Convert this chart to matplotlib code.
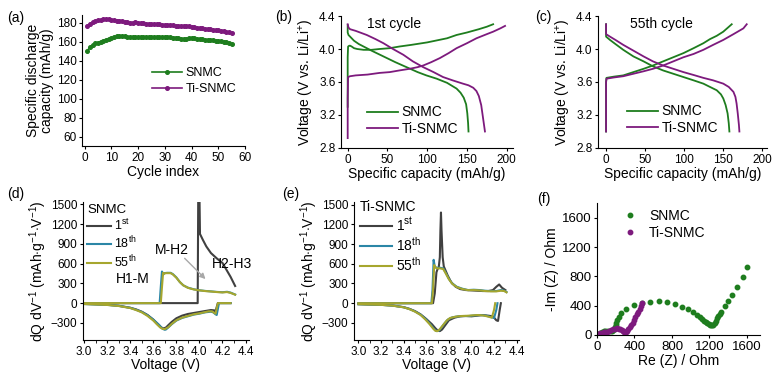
import matplotlib
matplotlib.use("Agg")
import matplotlib.pyplot as plt
from matplotlib.ticker import MultipleLocator

plt.rcParams['font.family'] = ['Liberation Sans', 'DejaVu Sans']
plt.rcParams['mathtext.fontset'] = 'custom'
plt.rcParams['mathtext.rm'] = 'Liberation Sans'
plt.rcParams['mathtext.it'] = 'Liberation Sans:italic'
plt.rcParams['axes.linewidth'] = 0.8

GREEN = '#1e7d1e'
PURPLE = '#7d1a7d'
DARK = '#404040'
TEAL = '#2b86a6'
OLIVE = '#a6a62e'

# ---- (a) cycling
cycles = list(range(1, 56))
cap_snmc = [150.5, 154, 156.5, 158, 159, 160, 161, 161.8, 162.5, 163.5,
            164.5, 165.5, 166, 166, 165.5, 165, 164.8, 164.5, 164.5, 164.8,
            165, 165, 164.8, 164.8, 165, 165, 164.8, 164.5, 164.6, 164.8,
            164.5, 164.5, 164.2, 164.2, 163.8, 163.2, 162.8, 163, 163.5, 163.8,
            163.5, 163, 162.6, 162.2, 162, 161.8, 161.5, 161.2, 160.8, 160.5,
            160.3, 160, 159.5, 158.8, 157]
cap_ti = [176, 179, 180.5, 181.5, 182.3, 183, 183.5, 183.8, 183.6, 183.2,
          182.8, 182.2, 181.7, 181.2, 180.6, 180.2, 180, 180, 180.2, 180,
          179.6, 179.3, 179, 178.8, 178.6, 178.4, 178.2, 178, 177.8, 177.6,
          177.4, 177.2, 177, 176.8, 176.6, 176.5, 176.4, 176.2, 176, 175.7,
          175.3, 174.8, 174.3, 173.8, 173.3, 173, 172.8, 172.6, 172.2, 171.8,
          171.3, 170.8, 170.3, 169.8, 169]

# ---- (b) 1st cycle charge/discharge
b_snmc_chg_x = [0, 0, 0.5, 2, 3, 5, 8, 12, 20, 30, 40, 53, 65, 80, 100, 115, 125, 137, 150, 165, 175, 183]
b_snmc_chg_v = [3.30, 3.90, 4.03, 4.04, 4.04, 4.03, 4.01, 4.00, 3.99, 3.99, 4.00, 4.01, 4.03, 4.05, 4.08, 4.11, 4.13, 4.17, 4.20, 4.24, 4.27, 4.30]
b_snmc_dis_x = [0, 0, 1, 3, 8, 14, 20, 30, 45, 60, 74, 88, 99, 112, 125, 137, 142, 146, 149, 150.5, 151.5, 152]
b_snmc_dis_v = [4.29, 4.20, 4.17, 4.15, 4.10, 4.06, 4.03, 3.98, 3.91, 3.84, 3.78, 3.72, 3.68, 3.64, 3.59, 3.52, 3.47, 3.41, 3.33, 3.22, 3.10, 3.00]
b_ti_chg_x = [0, 0, 0.5, 3, 10, 25, 40, 53, 65, 78, 88, 95, 105, 116, 127, 137, 150, 162, 175, 183, 192, 198]
b_ti_chg_v = [2.92, 3.40, 3.66, 3.67, 3.68, 3.69, 3.71, 3.72, 3.74, 3.76, 3.78, 3.80, 3.84, 3.89, 3.95, 4.01, 4.07, 4.13, 4.18, 4.21, 4.25, 4.28]
b_ti_dis_x = [0, 1, 3, 10, 24, 35, 45, 57, 70, 82, 95, 108, 120, 132, 145, 152, 158, 162, 165, 168, 170.5, 172.7]
b_ti_dis_v = [4.30, 4.26, 4.24, 4.22, 4.17, 4.12, 4.07, 4.00, 3.93, 3.85, 3.78, 3.72, 3.66, 3.62, 3.58, 3.56, 3.53, 3.49, 3.43, 3.32, 3.15, 3.00]

# ---- (c) 55th cycle
c_snmc_chg_x = [0, 0, 0.5, 10, 22, 35, 48, 60, 73, 86, 99, 112, 124.5, 133, 141.6, 150, 156, 160.8]
c_snmc_chg_v = [3.00, 3.60, 3.65, 3.665, 3.68, 3.72, 3.76, 3.80, 3.85, 3.90, 3.95, 4.01, 4.07, 4.12, 4.16, 4.21, 4.26, 4.30]
c_snmc_dis_x = [0, 0, 5, 12, 22, 35, 48, 60, 73, 86, 99, 112, 124.5, 133, 141.6, 147, 150, 153, 155.5, 157, 157.8]
c_snmc_dis_v = [4.30, 4.15, 4.11, 4.06, 3.99, 3.91, 3.85, 3.79, 3.74, 3.70, 3.66, 3.62, 3.58, 3.54, 3.50, 3.45, 3.40, 3.32, 3.22, 3.10, 3.00]
c_ti_chg_x = [0, 0, 0.5, 10, 22, 35, 48, 60, 73, 86, 99, 112, 124.5, 137, 150, 163, 175.7, 180]
c_ti_chg_v = [3.00, 3.60, 3.64, 3.655, 3.67, 3.70, 3.73, 3.76, 3.80, 3.85, 3.90, 3.94, 3.99, 4.05, 4.11, 4.18, 4.25, 4.30]
c_ti_dis_x = [0, 0, 5, 12, 22, 35, 48, 60, 73, 86, 99, 112, 124.5, 137, 150, 157, 163, 165.5, 167, 168.5, 170, 170.6]
c_ti_dis_v = [4.30, 4.18, 4.15, 4.11, 4.05, 3.98, 3.91, 3.85, 3.80, 3.76, 3.72, 3.685, 3.65, 3.62, 3.58, 3.54, 3.48, 3.42, 3.34, 3.22, 3.08, 3.00]

# ---- (d) dQ/dV SNMC
d1_chg_v = [3.00, 3.50, 3.90, 3.985, 3.99, 4.0, 4.005, 4.03, 4.06, 4.10, 4.15, 4.20, 4.23, 4.27, 4.31]
d1_chg_q = [0, 0, 0, 0, 1700, 1700, 1050, 960, 860, 760, 680, 610, 520, 400, 260]
d18_chg_v = [3.00, 3.40, 3.655, 3.665, 3.675, 3.685, 3.695, 3.72, 3.75, 3.77, 3.80, 3.83, 3.86, 3.90, 3.95, 4.00, 4.05, 4.10, 4.15, 4.20, 4.24, 4.27, 4.31]
d18_chg_q = [0, 0, 0, 250, 480, 430, 455, 460, 460, 440, 390, 320, 270, 235, 210, 195, 185, 178, 170, 165, 172, 160, 130]
d55_chg_v = [3.00, 3.40, 3.665, 3.675, 3.685, 3.695, 3.705, 3.72, 3.75, 3.77, 3.80, 3.83, 3.86, 3.90, 3.95, 4.00, 4.05, 4.10, 4.15, 4.20, 4.24, 4.27, 4.31]
d55_chg_q = [0, 0, 0, 240, 460, 445, 455, 455, 455, 435, 385, 320, 270, 232, 208, 193, 183, 176, 168, 162, 168, 155, 128]
d1_dis_v = [4.27, 4.16, 4.15, 4.14, 4.13, 4.10, 4.05, 4.00, 3.95, 3.90, 3.85, 3.80, 3.76, 3.73, 3.71, 3.69, 3.67, 3.64, 3.60, 3.55, 3.50, 3.45, 3.40, 3.30, 3.20, 3.10, 3.00]
d1_dis_q = [0, 0, -60, -130, -110, -105, -120, -135, -150, -165, -190, -230, -285, -335, -370, -385, -370, -320, -250, -180, -130, -95, -70, -40, -25, -18, -12]
d18_dis_v = [4.27, 4.17, 4.16, 4.15, 4.14, 4.12, 4.10, 4.05, 4.00, 3.95, 3.90, 3.85, 3.80, 3.76, 3.73, 3.71, 3.70, 3.68, 3.65, 3.60, 3.55, 3.50, 3.45, 3.40, 3.30, 3.20, 3.10, 3.00]
d18_dis_q = [0, 0, -90, -180, -170, -140, -130, -140, -160, -175, -200, -225, -265, -320, -370, -400, -405, -390, -330, -250, -185, -135, -100, -72, -42, -27, -20, -14]
d55_dis_v = [4.27, 4.16, 4.15, 4.14, 4.13, 4.11, 4.08, 4.04, 4.00, 3.95, 3.90, 3.85, 3.80, 3.76, 3.73, 3.70, 3.68, 3.66, 3.63, 3.60, 3.55, 3.50, 3.45, 3.40, 3.30, 3.20, 3.10, 3.00]
d55_dis_q = [0, 0, -80, -160, -150, -125, -125, -140, -155, -170, -195, -220, -260, -315, -365, -395, -390, -370, -320, -265, -195, -140, -105, -75, -44, -28, -20, -14]

# ---- (e) dQ/dV Ti-SNMC
e1_chg_v = [3.00, 3.40, 3.66, 3.675, 3.69, 3.70, 3.71, 3.72, 3.725, 3.73, 3.735, 3.745, 3.755, 3.77, 3.79, 3.82, 3.86, 3.90, 3.95, 4.00, 4.05, 4.10, 4.15, 4.19, 4.22, 4.245, 4.27, 4.30]
e1_chg_q = [0, 0, 0, 150, 470, 520, 540, 700, 1100, 1380, 1100, 700, 560, 500, 420, 320, 250, 215, 200, 195, 190, 185, 185, 200, 250, 285, 235, 200]
e18_chg_v = [3.00, 3.40, 3.645, 3.655, 3.665, 3.675, 3.69, 3.72, 3.75, 3.77, 3.80, 3.83, 3.87, 3.92, 3.97, 4.02, 4.07, 4.12, 4.17, 4.22, 4.26, 4.29, 4.31]
e18_chg_q = [0, 0, 0, 200, 660, 560, 540, 540, 530, 470, 370, 300, 250, 220, 200, 205, 200, 190, 185, 185, 200, 190, 170]
e55_chg_v = [3.00, 3.40, 3.65, 3.66, 3.67, 3.68, 3.695, 3.72, 3.75, 3.77, 3.80, 3.83, 3.87, 3.92, 3.97, 4.02, 4.07, 4.12, 4.17, 4.22, 4.26, 4.29, 4.31]
e55_chg_q = [0, 0, 0, 200, 580, 545, 530, 530, 520, 460, 365, 295, 245, 215, 198, 200, 195, 185, 180, 180, 190, 185, 165]
e1_dis_v = [4.26, 4.25, 4.235, 4.22, 4.19, 4.15, 4.10, 4.05, 4.00, 3.95, 3.90, 3.85, 3.80, 3.77, 3.74, 3.72, 3.70, 3.68, 3.65, 3.60, 3.55, 3.50, 3.45, 3.40, 3.30, 3.20, 3.00]
e1_dis_q = [0, -100, -270, -260, -200, -190, -180, -190, -200, -195, -200, -220, -260, -330, -400, -425, -415, -380, -320, -240, -170, -120, -85, -60, -35, -25, -15]
e18_dis_v = [4.23, 4.22, 4.20, 4.17, 4.13, 4.08, 4.03, 3.98, 3.93, 3.88, 3.83, 3.79, 3.76, 3.73, 3.71, 3.69, 3.67, 3.64, 3.60, 3.55, 3.50, 3.45, 3.40, 3.30, 3.20, 3.00]
e18_dis_q = [0, -100, -225, -210, -190, -180, -185, -195, -195, -200, -215, -250, -310, -380, -420, -425, -395, -330, -250, -175, -125, -88, -62, -36, -25, -15]
e55_dis_v = [4.21, 4.20, 4.18, 4.15, 4.11, 4.06, 4.01, 3.96, 3.91, 3.86, 3.81, 3.78, 3.75, 3.72, 3.70, 3.68, 3.66, 3.63, 3.59, 3.55, 3.50, 3.45, 3.40, 3.30, 3.20, 3.00]
e55_dis_q = [0, -100, -220, -205, -188, -180, -185, -192, -195, -205, -225, -265, -330, -395, -425, -420, -385, -320, -245, -180, -128, -90, -63, -37, -25, -15]

# ---- (f) EIS
f_snmc_re = [10, 20, 35, 50, 70, 90, 110, 130, 150, 165, 175, 183, 190, 198, 207, 218, 232, 260, 313, 391, 484, 569, 658, 747, 836, 911, 971, 1024, 1067, 1100, 1125, 1145, 1162, 1178, 1192, 1205, 1218, 1230, 1242, 1255, 1268, 1280, 1291, 1310, 1326, 1362, 1397, 1444, 1490, 1557, 1600]
f_snmc_im = [5, 18, 30, 40, 50, 55, 58, 57, 55, 55, 65, 85, 110, 140, 170, 205, 245, 296, 350, 409, 441, 454, 464, 446, 423, 386, 350, 310, 273, 245, 220, 195, 175, 158, 145, 135, 130, 132, 142, 165, 195, 225, 255, 290, 318, 396, 464, 546, 659, 787, 923]
f_ti_re = [10, 20, 35, 50, 70, 90, 110, 130, 150, 170, 190, 210, 230, 250, 265, 278, 290, 300, 310, 320, 335, 350, 365, 380, 395, 410, 425, 440, 455, 470, 485]
f_ti_im = [5, 15, 25, 32, 38, 42, 45, 55, 70, 80, 88, 90, 88, 78, 65, 50, 40, 38, 45, 60, 85, 110, 140, 170, 205, 240, 280, 320, 360, 400, 440]

TICK = 8.5
LAB = 10
LEG = 9


def style(ax):
    ax.spines['top'].set_visible(False)
    ax.spines['right'].set_visible(False)
    ax.tick_params(labelsize=TICK, length=2.5, width=0.8, pad=1.5)
    ax.tick_params(which='minor', length=1.8, width=0.6)


fig = plt.figure(figsize=(7.8, 3.74), dpi=100)

# (a)
ax = fig.add_axes([0.1051, 0.6096, 0.2090, 0.3503])
ax.plot(cycles, cap_snmc, color=GREEN, lw=1.2, marker='o', ms=2.6, label='SNMC')
ax.plot(cycles, cap_ti, color=PURPLE, lw=1.2, marker='o', ms=2.6, label='Ti-SNMC')
ax.set_xlim(-1, 60)
ax.set_ylim(50, 188)
ax.set_xticks(range(0, 61, 10))
ax.set_yticks(range(60, 181, 20))
ax.set_xlabel('Cycle index', fontsize=LAB, labelpad=1)
ax.set_ylabel('Specific discharge\ncapacity (mAh/g)', fontsize=LAB, labelpad=2, linespacing=1.0)
ax.legend(loc='center left', bbox_to_anchor=(0.43, 0.496), frameon=False, fontsize=LEG,
          handlelength=2.4, handletextpad=0.3, labelspacing=0.3, borderpad=0, borderaxespad=0)
style(ax)
fig.text(0.009, 0.941, '(a)', fontsize=LAB)

# (b)
ax = fig.add_axes([0.4372, 0.6043, 0.2205, 0.3529])
ax.plot(b_snmc_chg_x, b_snmc_chg_v, color=GREEN, lw=1.3, label='SNMC')
ax.plot(b_snmc_dis_x, b_snmc_dis_v, color=GREEN, lw=1.3)
ax.plot(b_ti_chg_x, b_ti_chg_v, color=PURPLE, lw=1.3, label='Ti-SNMC')
ax.plot(b_ti_dis_x, b_ti_dis_v, color=PURPLE, lw=1.3)
ax.set_xlim(-8.4, 208)
ax.set_ylim(2.8, 4.4)
ax.set_xticks([0, 50, 100, 150, 200])
ax.set_yticks([2.8, 3.2, 3.6, 4.0, 4.4])
ax.set_xlabel('Specific capacity (mAh/g)', fontsize=LAB, labelpad=1)
ax.set_ylabel('Voltage (V vs. Li/Li$^{+}$)', fontsize=LAB, labelpad=2)
ax.text(24, 4.30, '1st cycle', fontsize=LAB, va='center')
ax.legend(loc='center left', bbox_to_anchor=(0.151, 0.208), frameon=False, fontsize=LAB,
          handlelength=2.2, handletextpad=0.3, labelspacing=0.15, borderpad=0, borderaxespad=0)
style(ax)
fig.text(0.353, 0.944, '(b)', fontsize=LAB)

# (c)
ax = fig.add_axes([0.7667, 0.6043, 0.2167, 0.3529])
ax.plot(c_snmc_chg_x, c_snmc_chg_v, color=GREEN, lw=1.3, label='SNMC')
ax.plot(c_snmc_dis_x, c_snmc_dis_v, color=GREEN, lw=1.3)
ax.plot(c_ti_chg_x, c_ti_chg_v, color=PURPLE, lw=1.3, label='Ti-SNMC')
ax.plot(c_ti_dis_x, c_ti_dis_v, color=PURPLE, lw=1.3)
ax.set_xlim(-10.3, 206)
ax.set_ylim(2.8, 4.4)
ax.set_xticks([0, 50, 100, 150, 200])
ax.set_yticks([2.8, 3.2, 3.6, 4.0, 4.4])
ax.set_xlabel('Specific capacity (mAh/g)', fontsize=LAB, labelpad=1)
ax.set_ylabel('Voltage (V vs. Li/Li$^{+}$)', fontsize=LAB, labelpad=2)
ax.text(31, 4.30, '55th cycle', fontsize=LAB, va='center')
ax.legend(loc='center left', bbox_to_anchor=(0.172, 0.216), frameon=False, fontsize=LAB,
          handlelength=2.2, handletextpad=0.3, labelspacing=0.15, borderpad=0, borderaxespad=0)
style(ax)
fig.text(0.686, 0.944, '(c)', fontsize=LAB)

dq_label = 'dQ dV$^{-1}$ (mAh$\\cdot$g$^{-1}$$\\cdot$V$^{-1}$)'
cyc_labels = ['1$^{\\mathrm{st}}$', '18$^{\\mathrm{th}}$', '55$^{\\mathrm{th}}$']

# (d)
ax = fig.add_axes([0.1064, 0.0909, 0.2128, 0.369])
ax.plot(d1_chg_v, d1_chg_q, color=DARK, lw=1.5, label=cyc_labels[0])
ax.plot(d1_dis_v, d1_dis_q, color=DARK, lw=1.5)
ax.plot(d18_chg_v, d18_chg_q, color=TEAL, lw=1.5, label=cyc_labels[1])
ax.plot(d18_dis_v, d18_dis_q, color=TEAL, lw=1.5)
ax.plot(d55_chg_v, d55_chg_q, color=OLIVE, lw=1.5, label=cyc_labels[2])
ax.plot(d55_dis_v, d55_dis_q, color=OLIVE, lw=1.5)
ax.set_xlim(2.99, 4.43)
ax.set_ylim(-560, 1535)
ax.xaxis.set_major_locator(MultipleLocator(0.2))
ax.xaxis.set_minor_locator(MultipleLocator(0.1))
ax.set_yticks(range(-300, 1501, 300))
ax.set_xlabel('Voltage (V)', fontsize=LAB, labelpad=0)
ax.set_ylabel(dq_label, fontsize=LAB, labelpad=1)
ax.legend(loc='center left', bbox_to_anchor=(0.024, 0.746), frameon=False, fontsize=LEG,
          title='SNMC', title_fontsize=LEG + 0.5, alignment='left',
          handlelength=1.9, handletextpad=0.3, labelspacing=0.15, borderpad=0, borderaxespad=0)
ax.text(3.424, 361, 'H1-M', fontsize=LAB, ha='center', va='center')
ax.text(3.757, 812, 'M-H2', fontsize=LAB, ha='center', va='center')
ax.text(4.285, 587, 'H2-H3', fontsize=LAB, ha='center', va='center')
ax.annotate('', xy=(4.07, 335), xytext=(3.855, 710),
            arrowprops=dict(arrowstyle='-|>', color='#a8a8a8', lw=1.0, mutation_scale=8))
style(ax)
fig.text(0.009, 0.47, '(d)', fontsize=LAB)

# (e)
ax = fig.add_axes([0.4538, 0.0909, 0.2115, 0.369])
ax.plot(e1_chg_v, e1_chg_q, color=DARK, lw=1.5, label=cyc_labels[0])
ax.plot(e1_dis_v, e1_dis_q, color=DARK, lw=1.5)
ax.plot(e18_chg_v, e18_chg_q, color=TEAL, lw=1.5, label=cyc_labels[1])
ax.plot(e18_dis_v, e18_dis_q, color=TEAL, lw=1.5)
ax.plot(e55_chg_v, e55_chg_q, color=OLIVE, lw=1.5, label=cyc_labels[2])
ax.plot(e55_dis_v, e55_dis_q, color=OLIVE, lw=1.5)
ax.set_xlim(2.96, 4.42)
ax.set_ylim(-560, 1540)
ax.xaxis.set_major_locator(MultipleLocator(0.2))
ax.xaxis.set_minor_locator(MultipleLocator(0.1))
ax.set_yticks(range(-300, 1501, 300))
ax.set_xlabel('Voltage (V)', fontsize=LAB, labelpad=0)
ax.set_ylabel(dq_label, fontsize=LAB, labelpad=1)
ax.legend(loc='center left', bbox_to_anchor=(0.036, 0.746), frameon=False, fontsize=LAB,
          title='Ti-SNMC', title_fontsize=LAB, alignment='left',
          handlelength=2.3, handletextpad=0.3, labelspacing=0.15, borderpad=0, borderaxespad=0)
style(ax)
fig.text(0.362, 0.47, '(e)', fontsize=LAB)

# (f)
ax = fig.add_axes([0.7654, 0.1043, 0.2090, 0.3529])
ax.plot(f_snmc_re, f_snmc_im, 'o', color=GREEN, ms=3.2, label='SNMC')
ax.plot(f_ti_re, f_ti_im, 'o', color=PURPLE, ms=3.2, label='Ti-SNMC')
ax.set_xlim(0, 1740)
ax.set_ylim(0, 1800)
ax.set_xticks([0, 400, 800, 1200, 1600])
ax.set_yticks([0, 400, 800, 1200, 1600])
ax.tick_params(labelsize=9)
ax.set_xlabel('Re (Z) / Ohm', fontsize=LAB, labelpad=1)
ax.set_ylabel('-Im (Z) / Ohm', fontsize=LAB, labelpad=2)
ax.legend(loc='center left', bbox_to_anchor=(0.15, 0.84), frameon=False, fontsize=LAB,
          numpoints=1, handlelength=1.2, handletextpad=0.8, labelspacing=0.2, borderpad=0, borderaxespad=0)
style(ax)
ax.tick_params(labelsize=9.5)
fig.text(0.689, 0.457, '(f)', fontsize=LAB)

fig.savefig('out.png', dpi=100)
